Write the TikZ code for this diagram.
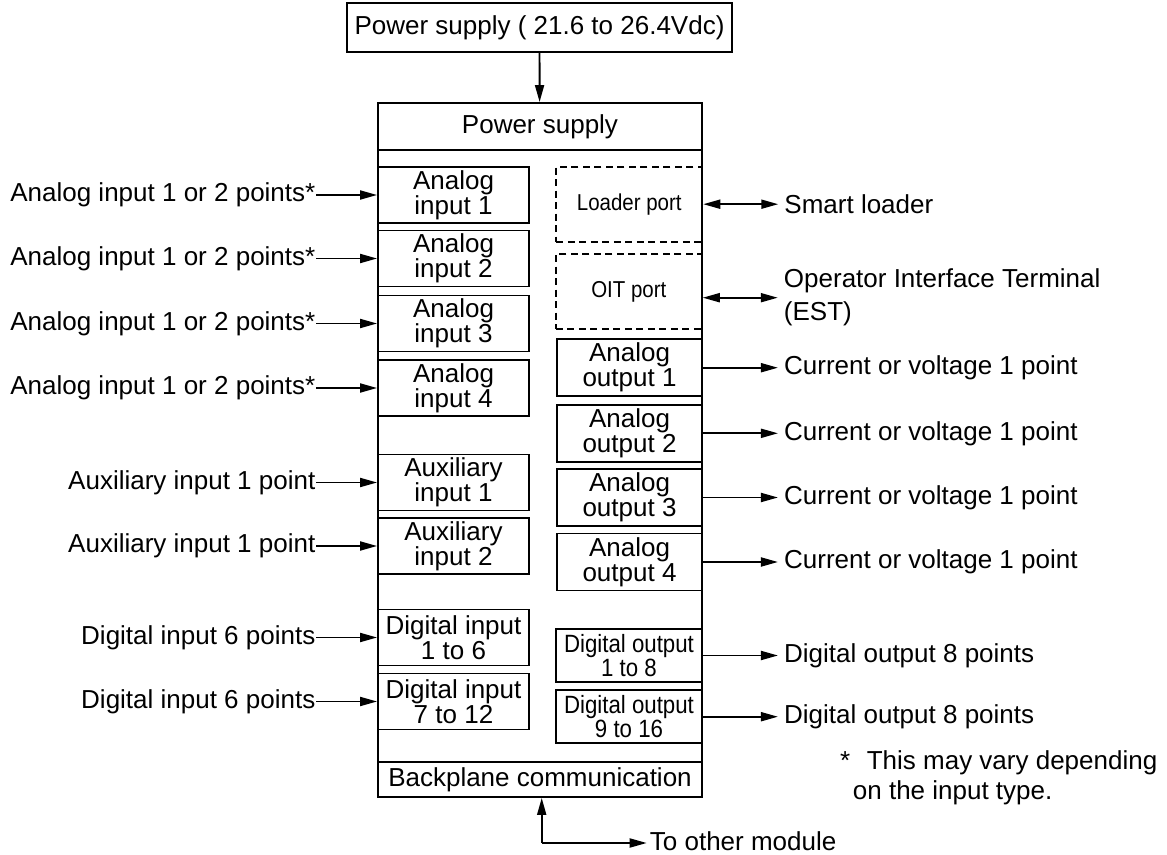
\documentclass[tikz,border=0pt]{standalone}
\usepackage{fontspec}
\setmainfont{Liberation Sans}
\newfontfamily\narrowfont[FakeStretch=0.89]{Liberation Sans}
\usetikzlibrary{arrows.meta,positioning}

\begin{document}
\begin{tikzpicture}[
    x=1pt, y=-1pt,
    every node/.style={font=\fontsize{26}{25}\selectfont},
    frame/.style={rectangle, draw, line width=1.9pt, inner sep=0pt, align=center},
    inbox/.style={frame, minimum width=151pt, minimum height=56pt},
    outbox/.style={frame, minimum width=145pt, minimum height=57pt},
    digout/.style={frame, minimum width=146pt, minimum height=53pt, font=\narrowfont\fontsize{25}{24}\selectfont},
    port/.style={frame, dash pattern=on 7pt off 4.5pt, minimum width=146pt, minimum height=75pt, font=\narrowfont\fontsize{23}{24}\selectfont},
    leftlabel/.style={inner xsep=0.5pt, inner ysep=2pt, left=61pt of #1},
    rightlabel/.style={inner xsep=6pt, inner ysep=2pt, right=75pt of #1, align=left},
    arrow/.style={-{Triangle[length=17pt,width=9pt]}, line width=1.9pt},
    biarrow/.style={{Triangle[length=17pt,width=9pt]}-{Triangle[length=17pt,width=9pt]}, line width=1.9pt},
]
\useasboundingbox (0,0) rectangle (1167,854);

% External supply
\node[frame, minimum width=385pt, minimum height=49pt] (supply) at (539.5,27.5) {Power supply ( 21.6 to 26.4Vdc)};

% Module outline with its top and bottom rows
\node[frame, minimum width=324pt, minimum height=694pt] (module) at (540,450) {};
\node[frame, minimum width=324pt, minimum height=47pt] (psrow) at (540,126.5) {Power supply};
\node[frame, minimum width=324pt, minimum height=35pt] (bprow) at (540,779.5) {Backplane communication};

% Input cards (left column)
\node[inbox] (ai1) at (453.5,195) {Analog\\input 1};
\node[inbox] (ai2) at (453.5,258.5) {Analog\\input 2};
\node[inbox] (ai3) at (453.5,323.5) {Analog\\input 3};
\node[inbox] (ai4) at (453.5,388) {Analog\\input 4};
\node[inbox] (aux1) at (453.5,482.5) {Auxiliary\\input 1};
\node[inbox] (aux2) at (453.5,546) {Auxiliary\\input 2};
\node[inbox] (di1) at (453.5,637.5) {Digital input\\1 to 6};
\node[inbox] (di2) at (453.5,701.5) {Digital input\\7 to 12};

% Ports and output cards (right column)
\node[port] (loader) at (629.3,204.2) {Loader port};
\node[port] (oit) at (628.8,291.7) {OIT port};
\node[outbox] (ao1) at (629.5,367.7) {Analog\\output 1};
\node[outbox] (ao2) at (629.5,433.3) {Analog\\output 2};
\node[outbox] (ao3) at (629.5,497.5) {Analog\\output 3};
\node[outbox] (ao4) at (629.5,562) {Analog\\output 4};
\node[digout] (do1) at (629,655.5) {Digital output\\1 to 8};
\node[digout] (do2) at (629,716.7) {Digital output\\9 to 16};

% Left side signals
\node[leftlabel=ai1] (lai1) {Analog input 1 or 2 points*};
\node[leftlabel=ai2] (lai2) {Analog input 1 or 2 points*};
\node[leftlabel=ai3] (lai3) {Analog input 1 or 2 points*};
\node[leftlabel=ai4] (lai4) {Analog input 1 or 2 points*};
\node[leftlabel=aux1] (laux1) {Auxiliary input 1 point};
\node[leftlabel=aux2] (laux2) {Auxiliary input 1 point};
\node[leftlabel=di1] (ldi1) {Digital input 6 points};
\node[leftlabel=di2] (ldi2) {Digital input 6 points};

% Right side signals
\node[rightlabel=loader] (lloader) {Smart loader};
\node[rightlabel=oit, yshift=-6pt, font=\fontsize{26}{33}\selectfont] (loit) {Operator Interface Terminal\\(EST)};
\node[rightlabel=ao1] (lao1) {Current or voltage 1 point};
\node[rightlabel=ao2] (lao2) {Current or voltage 1 point};
\node[rightlabel=ao3] (lao3) {Current or voltage 1 point};
\node[rightlabel=ao4] (lao4) {Current or voltage 1 point};
\node[rightlabel=do1] (ldo1) {Digital output 8 points};
\node[rightlabel=do2] (ldo2) {Digital output 8 points};

% Footnote
\node[anchor=west, align=left, inner sep=0pt, font=\fontsize{26}{30}\selectfont] (note) at (840,778) {*\hspace{16.5pt}This may vary depending\\\hspace*{12.7pt}on the input type.};

% Backplane link
\coordinate (bend) at (541.7,843);
\node[inner xsep=3pt, right=105pt of bend, yshift=2pt] (other) {To other module};

% Arrows
\draw[arrow] (supply) -- (module);
\draw[arrow] (lai1) -- (ai1);
\draw[arrow] (lai2) -- (ai2);
\draw[arrow] (lai3) -- (ai3);
\draw[arrow] (lai4) -- (ai4);
\draw[arrow] (laux1) -- (aux1);
\draw[arrow] (laux2) -- (aux2);
\draw[arrow] (ldi1) -- (di1);
\draw[arrow] (ldi2) -- (di2);
\draw[biarrow] (loader) -- (lloader);
\draw[biarrow] (oit.east |- loit.west) -- (loit.west);
\draw[arrow] (ao1) -- (lao1);
\draw[arrow] (ao2) -- (lao2);
\draw[arrow] (ao3) -- (lao3);
\draw[arrow] (ao4) -- (lao4);
\draw[arrow] (do1) -- (ldo1);
\draw[arrow] (do2) -- (ldo2);
\draw[arrow] (bend) -- (bend |- module.south);
\draw[arrow] (bend) -- (bend -| other.west);

\end{tikzpicture}
\end{document}
